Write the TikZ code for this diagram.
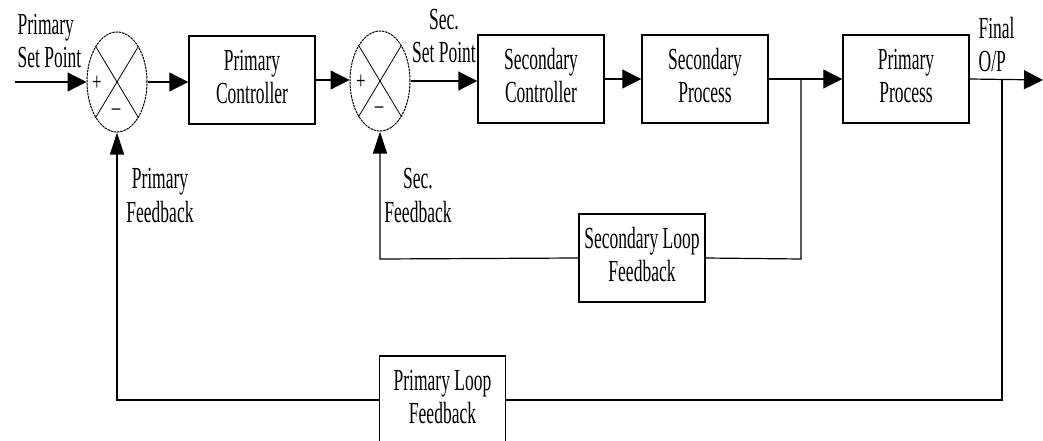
\documentclass[tikz,border=0pt]{standalone}
\usepackage{fontspec}
\setmainfont{Liberation Serif}
\usetikzlibrary{shapes.geometric,arrows.meta}
\newcommand{\tx}[2]{\scalebox{1}[1.75]{\fontsize{17.5}{19}\selectfont\begin{tabular}[b]{@{}#1@{}}#2\end{tabular}}}
\newcommand{\sg}[1]{\scalebox{1}[1.5]{\fontsize{17}{17}\selectfont #1}}
\begin{document}
\begin{tikzpicture}[x=1pt,y=-1pt,
  line width=1.2pt,
  blk/.style={draw,line width=1.5pt,minimum width=126pt,minimum height=88pt,inner sep=0pt},
  sumnode/.style={ellipse,draw,line width=1pt,dash pattern=on 2.5pt off 0.8pt,minimum width=60pt,minimum height=100pt,inner sep=0pt},
  lbl/.style={inner sep=0pt},
  harr/.style={-{Triangle[length=19pt,width=19pt]}},
  varr/.style={-{Triangle[length=22pt,width=14pt]}}]
\useasboundingbox (0,0) rectangle (1043,441);
% summing junctions
\node[sumnode] (s1) at (117,82) {};
\node[sumnode] (s2) at (380,81) {};
\foreach \s in {s1,s2}{
  \draw[line width=0.8pt] (\s.121) -- (\s.-59);
  \draw[line width=0.8pt] (\s.59) -- (\s.-121);
}
\node[lbl] (p1) at (97,83) {\sg{+}};
\node[lbl] (m1) at (116,112) {\sg{--}};
\node[lbl] (p2) at (361,82) {\sg{+}};
\node[lbl] (m2) at (379,110) {\sg{--}};
% blocks
\node[blk] (pc) at (252,80) {\tx{c}{Primary\\Controller}};
\node[blk] (sc) at (541,79) {\tx{c}{Secondary\\Controller}};
\node[blk] (sp) at (705,79) {\tx{c}{Secondary\\Process}};
\node[blk] (pp) at (906,79) {\tx{c}{Primary\\Process}};
\node[blk] (slf) at (642,258) {\tx{c}{Secondary Loop\\Feedback}};
\node[blk] (plf) at (442.5,400) {\tx{c}{Primary Loop\\Feedback}};
% coordinates
\coordinate (in) at (15,82);
\coordinate (out) at (1043,80);
\coordinate (b1) at (801,80);
\coordinate (b2) at (1002,80);
\coordinate (c1) at (801,259);
\coordinate (c2) at (380,259);
\coordinate (c3) at (1002,400);
\coordinate (c4) at (117,400);
% forward path
\draw[harr] (in) -- (s1.west);
\draw[harr] (s1.east) -- (s1.east -| pc.west);
\draw[harr] (pc.east) -- (pc.east -| s2.west);
\draw[harr] (s2.east) -- (s2.east -| sc.west);
\draw[harr] (sc.east) -- (sp.west);
\draw[harr] (sp.east) -- (pp.west);
\draw[harr] (pp.east) -- (out);
% secondary loop
\draw (b1) -- (c1) -- (slf.east);
\draw[varr] (slf.west) -- (c2) -- (s2.south);
% primary loop
\draw (b2) -- (c3) -- (plf.east);
\draw[varr] (plf.west) -- (c4) -- (s1.south);
% labels
\node[lbl,anchor=base west] (l1) at (17,68) {\tx{l}{Primary\\Set Point}};
\node[lbl,anchor=base] (l2) at (160,222) {\tx{c}{Primary\\Feedback}};
\node[lbl,anchor=base] (l3) at (444,63) {\tx{c}{Sec.\\Set Point}};
\node[lbl,anchor=base] (l4) at (418,222) {\tx{c}{Sec.\\Feedback}};
\node[lbl,anchor=base west] (l5) at (978,72) {\tx{l}{Final\\O/P}};
\end{tikzpicture}
\end{document}
